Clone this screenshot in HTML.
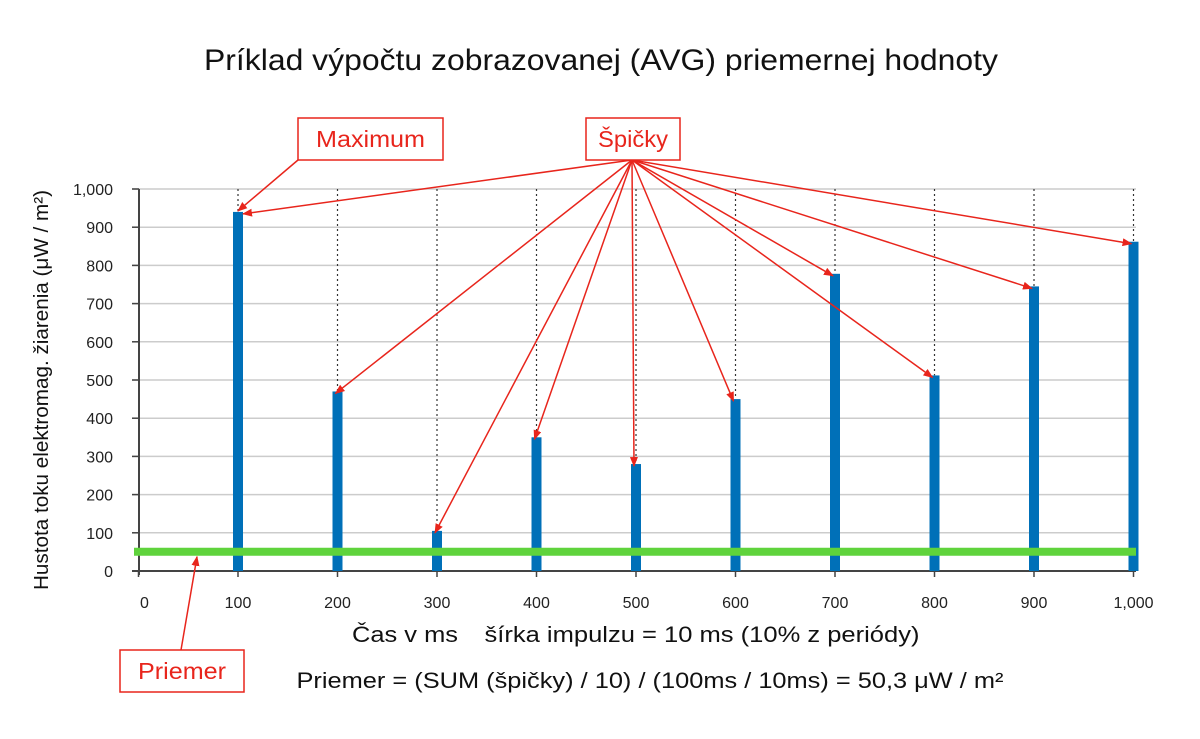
<!DOCTYPE html>
<html><head><meta charset="utf-8"><style>
body{margin:0;background:#fff;}
svg{display:block;font-family:"Liberation Sans",sans-serif;}
</style></head><body>
<svg id="c" width="1200" height="739">
<defs><marker id="ah" markerWidth="10" markerHeight="8" refX="9" refY="4" orient="auto" markerUnits="userSpaceOnUse"><path d="M0,0 L10,4 L0,8 z" fill="#e8251c"/></marker></defs>
<text x="601" y="70" font-size="30" text-anchor="middle" textLength="794" lengthAdjust="spacingAndGlyphs" fill="#111">Príklad výpočtu zobrazovanej (AVG) priemernej hodnoty</text>
<text transform="translate(48,390) rotate(-90)" font-size="20" text-anchor="middle" textLength="400" lengthAdjust="spacingAndGlyphs" fill="#111">Hustota toku elektromag. žiarenia (μW / m²)</text>
<text x="405" y="642" font-size="22" text-anchor="middle" textLength="106" lengthAdjust="spacingAndGlyphs" fill="#111">Čas v ms</text>
<text x="702" y="642" font-size="22" text-anchor="middle" textLength="435" lengthAdjust="spacingAndGlyphs" fill="#111">šírka impulzu = 10 ms (10% z periódy)</text>
<text x="650" y="688" font-size="22" text-anchor="middle" textLength="707" lengthAdjust="spacingAndGlyphs" fill="#111">Priemer = (SUM (špičky) / 10) / (100ms / 10ms) = 50,3 μW / m²</text>
<g id="plot"></g>
</svg>
<script>
const xTicks=[0,100,200,300,400,500,600,700,800,900,1000];
const xTickLabels=["0","100","200","300","400","500","600","700","800","900","1,000"];
const yTicks=[0,100,200,300,400,500,600,700,800,900,1000];
const yTickLabels=["0","100","200","300","400","500","600","700","800","900","1,000"];
const times=[100,200,300,400,500,600,700,800,900,1000];
const peaks=[940,470,105,350,280,450,778,512,745,862];
const average=[50.3];
const NS="http://www.w3.org/2000/svg";
const g=document.getElementById('plot');
const X=v=>138.5+v*0.995;
const Y=v=>571-v*0.382;
function mk(t,a){const e=document.createElementNS(NS,t);for(const k in a)e.setAttribute(k,a[k]);g.appendChild(e);return e;}
yTicks.forEach((v,i)=>{
 const l=mk('line',{x1:132,x2:1136,y1:Y(v),y2:Y(v),stroke:v===0?'#444':'#ccc','stroke-width':v===0?2:1.5});
 
 
 const tk=mk('line',{x1:132,x2:139,y1:Y(v),y2:Y(v),stroke:'#444','stroke-width':1.5});
 
 
 const t=mk('text',{x:113,y:Y(v)+6,'font-size':16,'text-anchor':'end',fill:'#222'});
 t.textContent=yTickLabels[i];
 
 
});
const ax=mk('line',{x1:139,x2:139,y1:Y(1000),y2:Y(0)+4,stroke:'#444','stroke-width':2});


xTicks.forEach((v,i)=>{
 const tk=mk('line',{x1:X(v),x2:X(v),y1:Y(0),y2:Y(0)+6,stroke:'#444','stroke-width':1.5});
 
 
 const t=mk('text',{x:X(v)+(v===0?6:0),y:608,'font-size':16,'text-anchor':'middle',fill:'#222'});
 t.textContent=xTickLabels[i];
 
 
});
times.forEach((tm,i)=>{
 const d=mk('line',{x1:X(tm),x2:X(tm),y1:Y(1000),y2:Y(peaks[i]),stroke:'#333','stroke-width':1.2,'stroke-dasharray':'2,3'});
 
 
 const b=mk('rect',{x:X(tm)-5,y:Y(peaks[i]),width:10,height:Y(0)-Y(peaks[i]),fill:'#0070b8'});
 
 
});
const avg=mk('line',{x1:134,x2:1136,y1:Y(average[0]),y2:Y(average[0]),stroke:'#5fd33c','stroke-width':8});


const src=[632,160];
times.forEach((tm,i)=>{
 const tx=X(tm)+(i===0?5:-2), ty=Y(peaks[i])+2;
 const a=mk('line',{x1:src[0],y1:src[1],x2:tx,y2:ty,stroke:'#e8251c','stroke-width':1.5,'marker-end':'url(#ah)'});
 
 
});
const am=mk('line',{x1:298,y1:160,x2:X(100),y2:Y(peaks[0])-1,stroke:'#e8251c','stroke-width':1.5,'marker-end':'url(#ah)'});


const ap=mk('line',{x1:181,y1:650,x2:197,y2:Y(average[0])+5,stroke:'#e8251c','stroke-width':1.5,'marker-end':'url(#ah)'});


function box(x,y,w,h,txt,name,tl){
 const r=mk('rect',{x:x,y:y,width:w,height:h,fill:'#fff',stroke:'#e8251c','stroke-width':1.5});
 
 
 const t=mk('text',{x:x+w/2,y:y+h/2+8,'font-size':23,'text-anchor':'middle',fill:'#e8251c',textLength:tl,lengthAdjust:'spacingAndGlyphs'});
 t.textContent=txt;
 
 
}
box(298,118,145,42,'Maximum','maximum',109);
box(586,118,94,42,'Špičky','peaks',70);
box(120,650,124,42,'Priemer','average',88);
</script>
</body></html>
